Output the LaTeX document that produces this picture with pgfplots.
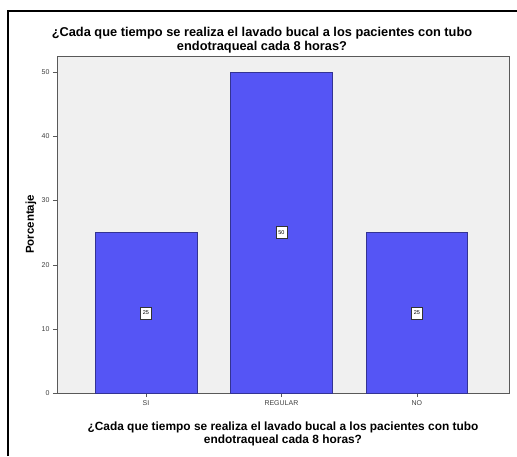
\documentclass[border=0pt]{standalone}
\usepackage{pgfplots}
\pgfplotsset{compat=1.18}
\usepackage{fontspec}
\setmainfont{Liberation Sans}
\definecolor{barblue}{RGB}{85,85,245}
\definecolor{bggray}{RGB}{240,240,240}
\begin{document}
\begin{tikzpicture}[x=1pt,y=1pt]
\useasboundingbox (0,0) rectangle (517,456);
\fill[white] (0,0) rectangle (517,456);
\draw[line width=2pt] (8,0) -- (8,445) -- (517,445);
\node[font=\bfseries\fontsize{12.8}{14}\selectfont, align=center] at (262,416) {¿Cada que tiempo se realiza el lavado bucal a los pacientes con tubo\\endotraqueal cada 8 horas?};
\begin{axis}[
  at={(283pt,231.5pt)}, anchor=center,
  scale only axis, width=452pt, height=337pt,
  xmin=-0.657, xmax=2.68, ymin=0, ymax=52.5,
  axis background/.style={fill=bggray},
  axis line style={gray!70!black, line width=0.6pt},
  xtick={0,1,2}, xticklabels={SI,REGULAR,NO},
  ytick={0,10,20,30,40,50},
  tick align=outside, tick pos=left,
  major tick length=4pt,
  tick style={gray!70!black},
  /pgf/number format/assume math mode=true,
  ticklabel style={font=\fontsize{7}{8}\selectfont, text=black!75},
  ylabel={Porcentaje},
  ylabel style={font=\bfseries\fontsize{11.5}{12}\selectfont, at={(-0.038,0.5)}},
  xlabel={¿Cada que tiempo se realiza el lavado bucal a los pacientes con tubo\\endotraqueal cada 8 horas?},
  xlabel style={font=\bfseries\fontsize{11.9}{13}\selectfont, align=center, at={(0.5,0)}, anchor=north, yshift=-25pt},
]
\addplot[ybar, bar width=0.75, bar shift=0pt, fill=barblue, draw=barblue!60!black, line width=0.4pt]
  coordinates {(0,25) (1,50) (2,25)};
\addplot[only marks, mark=none, point meta=explicit,
  nodes near coords={\pgfmathprintnumber{\pgfplotspointmeta}},
  nodes near coords style={font=\fontsize{5.5}{6}\selectfont, fill=white, draw=black!80, line width=0.3pt, inner sep=1pt, minimum width=11pt, minimum height=12pt, anchor=center}]
  coordinates {(0,12.5) [25] (1,25) [50] (2,12.5) [25]};
\end{axis}
\end{tikzpicture}
\end{document}
